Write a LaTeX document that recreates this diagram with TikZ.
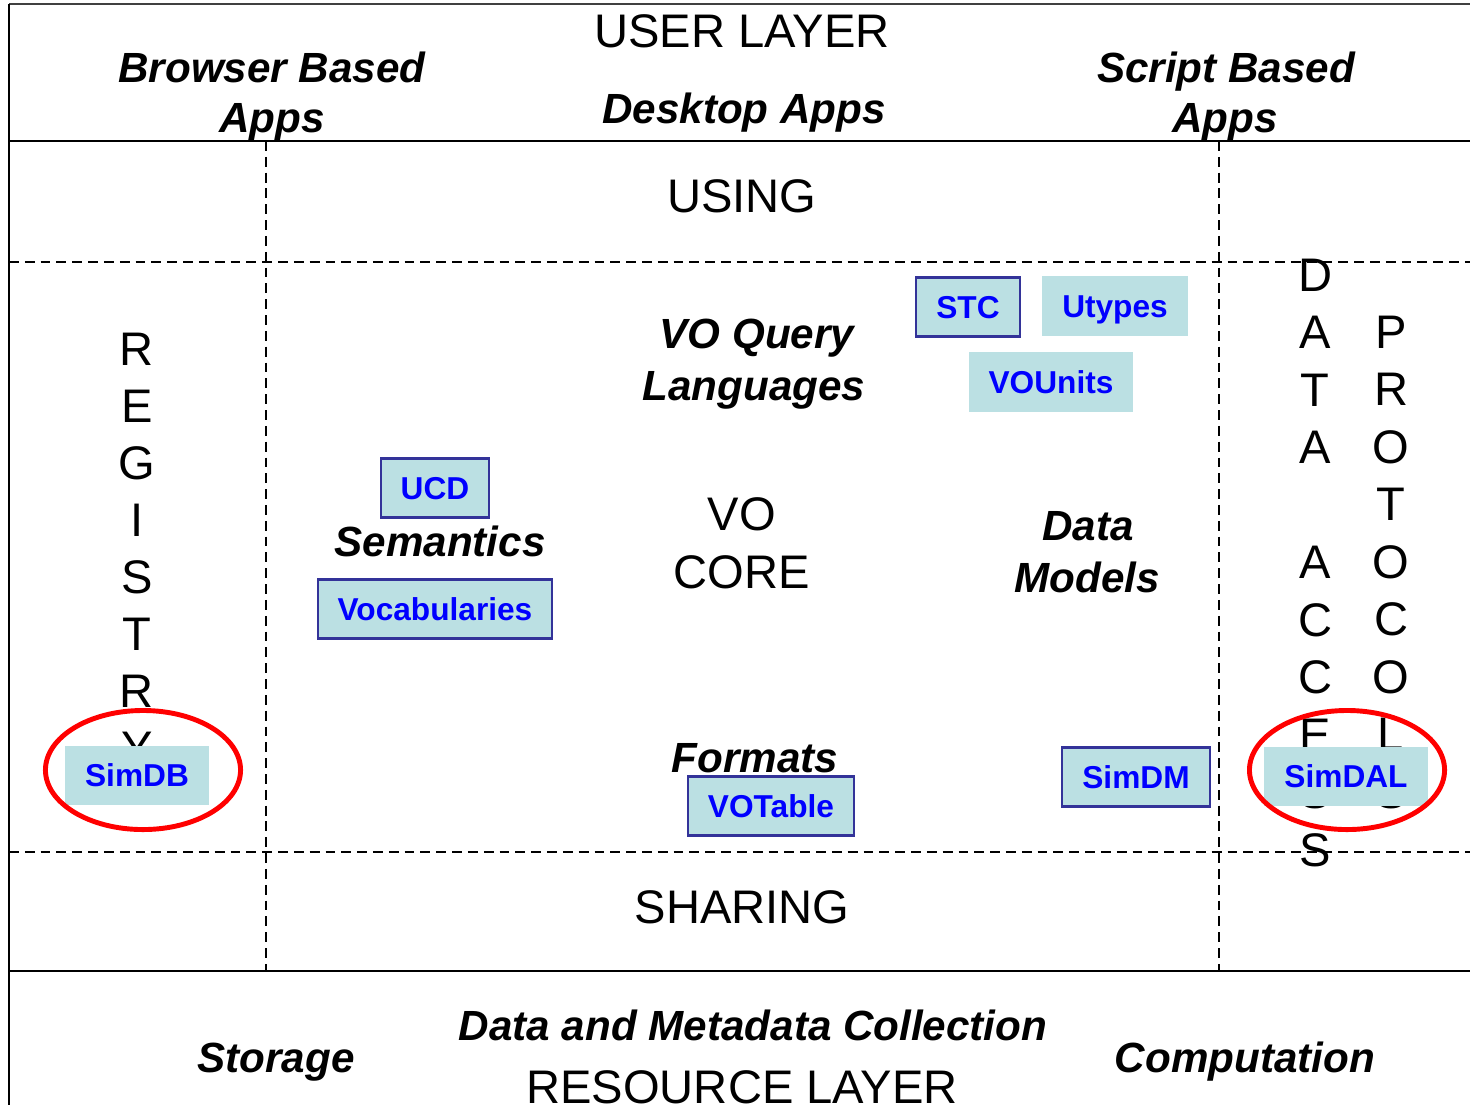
\documentclass[tikz,border=0pt]{standalone}
\usepackage{fontspec}
\setmainfont{Liberation Sans}
\definecolor{specfill}{HTML}{BBE0E3}
\definecolor{specblue}{HTML}{0000FF}
\definecolor{specedge}{HTML}{333399}

\begin{document}
\begin{tikzpicture}[x=0.01cm,y=-0.01cm,
  layer/.style={font=\fontsize{13.4}{16}\selectfont,anchor=base,inner sep=0pt},
  apps/.style={font=\fontsize{12}{14}\selectfont\bfseries\itshape,anchor=base,inner sep=0pt},
  spec/.style={fill=specfill,text=specblue,font=\fontsize{9}{11}\selectfont\bfseries,
    inner xsep=5.7pt,inner ysep=0pt,text height=6.5pt,text depth=0pt,minimum height=0.59cm},
  specbox/.style={spec,draw=specedge,line width=0.6pt},
  hilite/.style={red,line width=1.4pt},
  grid/.style={line width=0.6pt,dash pattern=on 2.8pt off 1.7pt}]
\useasboundingbox (0,0) rectangle (1470,1105);

% frame and bands
\draw[line width=0.45pt,black!75] (9,4)--(1470,4);
\draw[line width=0.6pt] (9,4)--(9,1105);
\draw[line width=0.6pt] (9,141)--(1470,141) (9,971)--(1470,971);
\draw[grid] (9,262)--(1470,262) (9,852)--(1470,852);
\draw[grid] (266,141)--(266,971) (1219,141)--(1219,971);

% user layer
\node[layer] (user) at (742,47) {USER LAYER};
\node[apps] (browser) at (272,82) {Browser Based};
\node[apps] (browserapps) at (272,132) {Apps};
\node[apps] (desktop) at (744,123) {Desktop Apps};
\node[apps] (script) at (1226,82) {Script Based};
\node[apps] (scriptapps) at (1225,132) {Apps};
\node[layer] (using) at (742,212) {USING};

% side columns
\foreach \ch [count=\i from 0] in {R,E,G,I,S,T,R,Y}
  \node[layer] (reg-\i) at (137,{365+57.1*\i}) {\ch};
\foreach \ch [count=\i from 0] in {D,A,T,A,{},A,C,C,E,S,S}
  \node[layer] (access-\i) at (1315,{291+57.5*\i}) {\ch};
\foreach \ch [count=\i from 0] in {P,R,O,T,O,C,O,L,S}
  \node[layer] (proto-\i) at (1391,{348+57.5*\i}) {\ch};

% core
\node[apps] (query) at (757,348) {VO Query};
\node[apps] (lang) at (754,400) {Languages};
\node[apps] (sem) at (440,556) {Semantics};
\node[layer] (vo) at (742,530) {VO};
\node[layer] (core) at (742,588) {CORE};
\node[apps] (data) at (1088,540) {Data};
\node[apps] (models) at (1087,592) {Models};
\node[apps] (formats) at (755,772) {Formats};
\node[layer] (sharing) at (742,923) {SHARING};

% standards
\node[specbox] (stc) at (968,307) {STC};
\node[spec] (utypes) at (1115,306) {Utypes};
\node[spec] (vounits) at (1051,382) {VOUnits};
\node[specbox] (ucd) at (435,488) {UCD};
\node[specbox] (vocab) at (435,609) {Vocabularies};
\node[specbox] (votable) at (771,806) {VOTable};
\node[specbox] (simdm) at (1136,777) {SimDM};
\node[spec] (simdb) at (137,775) {SimDB};
\node[spec] (simdal) at (1346,776) {SimDAL};
\draw[hilite] (143,770) ellipse [x radius=0.975cm,y radius=0.595cm];
\draw[hilite] (1347,770) ellipse [x radius=0.975cm,y radius=0.595cm];

% resource layer
\node[apps] (collect) at (753,1040) {Data and Metadata Collection};
\node[apps] (storage) at (276,1072) {Storage};
\node[apps] (comput) at (1245,1072) {Computation};
\node[layer] (resource) at (742,1103) {RESOURCE LAYER};
\end{tikzpicture}
\end{document}
